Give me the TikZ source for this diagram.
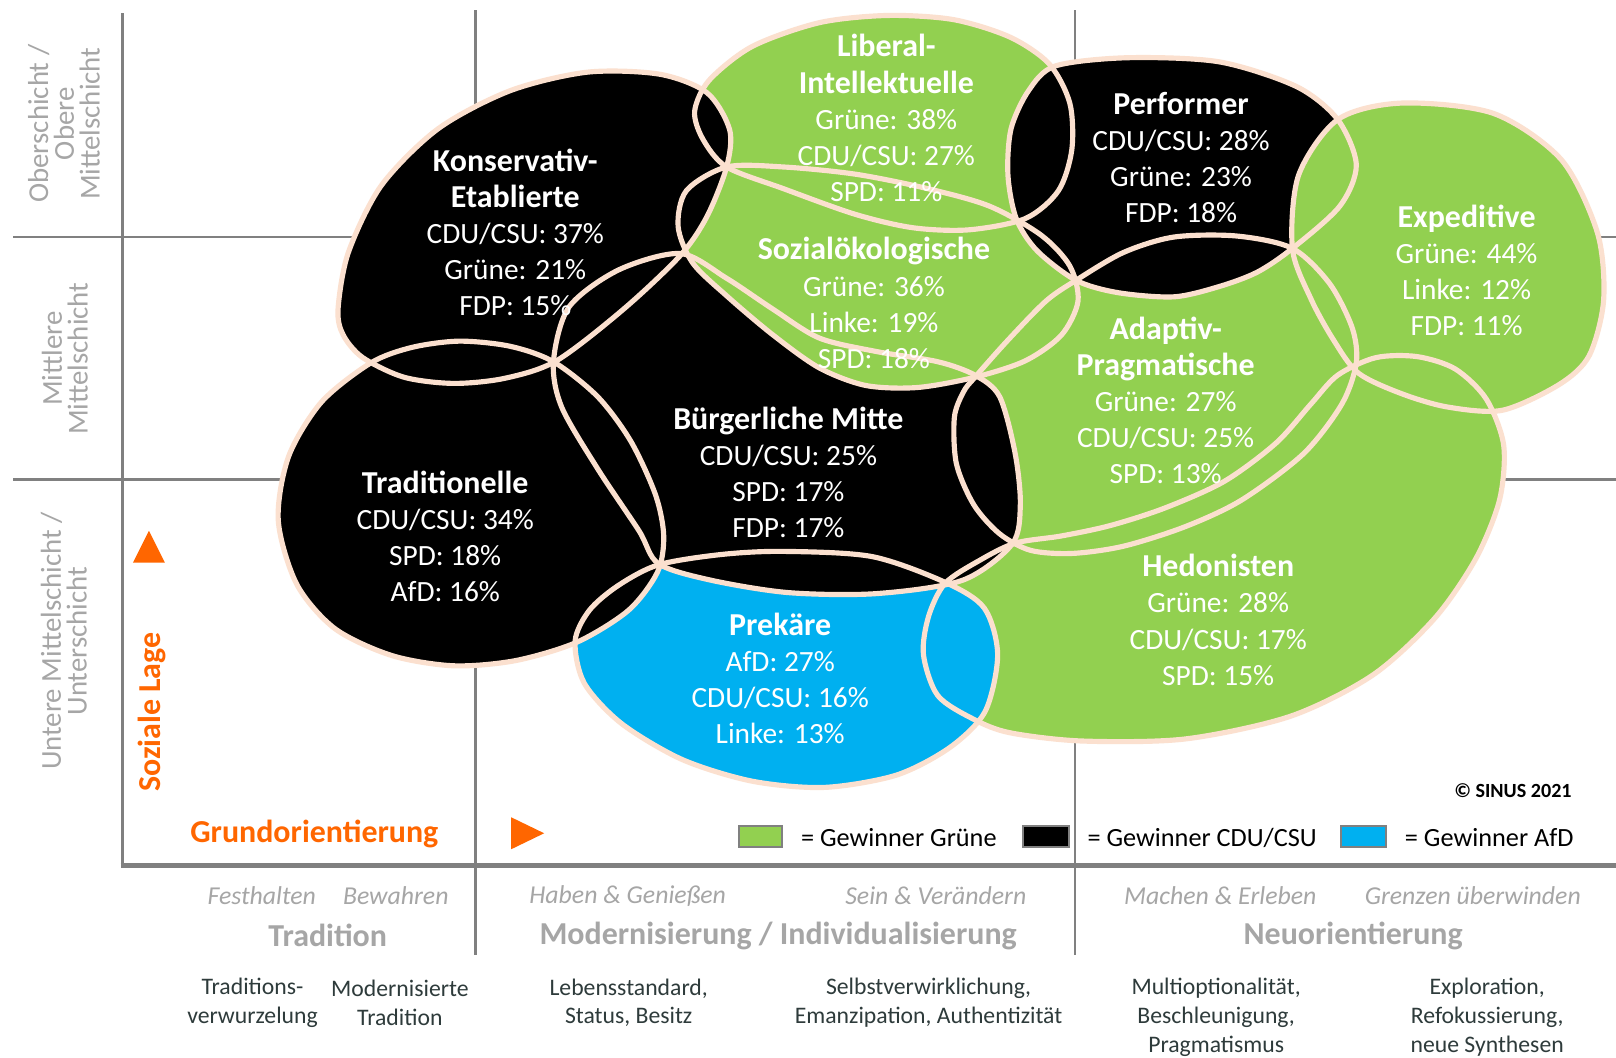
\documentclass[tikz,border=0pt]{standalone}
\usepackage{fontspec}
\setmainfont{Carlito}
\definecolor{peach}{HTML}{FBE0CF}
\definecolor{mgreen}{HTML}{92D050}
\definecolor{mblue}{HTML}{00B0F0}
\definecolor{morange}{HTML}{FF6600}
\definecolor{gridgray}{HTML}{808080}
\definecolor{sidegray}{HTML}{A6A6A6}
\definecolor{darktxt}{HTML}{2E3B3B}
\newcommand\mtitle[1]{{\fontsize{31}{35}\selectfont\bfseries #1}}
\begin{document}
\begin{tikzpicture}[x=1pt,y=-1pt,
  gridln/.style={draw=gridgray, line width=2.8pt},
  outline/.style={draw=peach, line width=5pt, line join=round},
  milieu/.style={text=white, align=center, inner sep=0pt, font=\fontsize{28.5}{35}\selectfont},
  sidelbl/.style={text=sidegray, align=center, rotate=90, inner sep=0pt, font=\fontsize{28}{25}\selectfont},
  orangelbl/.style={text=morange, inner sep=0pt, font=\fontsize{31}{35}\selectfont\bfseries},
  italbl/.style={text=sidegray, inner sep=0pt, font=\fontsize{25}{30}\selectfont\itshape},
  boldlbl/.style={text=sidegray, inner sep=0pt, font=\fontsize{31}{35}\selectfont\bfseries},
  desclbl/.style={text=darktxt, align=center, inner sep=0pt, font=\fontsize{23}{28}\selectfont},
  legbox/.style={draw=gridgray, line width=2pt, minimum width=42pt, minimum height=21pt, inner sep=0pt},
  legtxt/.style={anchor=west, inner sep=0pt, font=\fontsize{25.5}{30}\selectfont},
]
\useasboundingbox (0,0) rectangle (1568,1026);
\fill[white] (0,0) rectangle (1568,1026);

% grid
\draw[gridln] (13,230) -- (1568,230);
\draw[gridln] (13,465) -- (1568,465);
\draw[gridln] (461,10) -- (461,927);
\draw[gridln] (1043,10) -- (1043,927);
\draw[gridln] (119,13) -- (119,840);
\draw[gridln, line width=4.5pt] (117,840) -- (1568,840);

% blob paths
\def\pK{plot[smooth cycle] coordinates {(328,300) (338,245) (370,180) (425,125) (495,88) (570,70) (640,72) (686,90) (708,126) (705,162) (686,210) (660,248) (605,300) (540,350) (490,367) (440,372) (392,366) (352,347) (333,325)}}
\def\pL{plot[smooth cycle] coordinates {(705,162) (682,135) (674,108) (688,78) (730,45) (795,22) (861,15) (925,19) (980,36) (1018,62) (1038,100) (1040,145) (1027,185) (995,212) (940,223) (886,221) (830,208) (760,183)}}
\def\pS{plot[smooth cycle] coordinates {(705,162) (760,162) (830,169) (900,183) (960,200) (1010,228) (1038,258) (1046,292) (1030,325) (995,350) (946,366) (890,376) (840,374) (795,357) (750,325) (705,287) (672,255) (658,220) (666,185)}}
\def\pB{plot[smooth cycle] coordinates {(537,351) (552,298) (600,262) (660,246) (705,270) (750,300) (795,328) (850,341) (910,351) (946,364) (970,385) (985,440) (990,490) (982,528) (934,563) (850,576) (765,575) (690,563) (639,547) (620,515) (580,455) (545,395)}}
\def\pT{plot[smooth cycle] coordinates {(446,331) (495,336) (537,351) (580,385) (612,428) (636,480) (644,520) (638,555) (610,592) (560,623) (500,641) (440,646) (380,636) (325,610) (288,567) (270,505) (280,443) (312,390) (360,352) (400,337)}}
\def\pP{plot[smooth cycle] coordinates {(639,548) (700,538) (760,535) (846,540) (917,565) (955,590) (968,635) (956,690) (922,725) (870,752) (800,764) (730,758) (662,737) (603,702) (567,663) (558,622) (572,592) (600,568)}}
\def\pH{plot[smooth cycle] coordinates {(917,566) (950,544) (985,527) (1030,520) (1077,510) (1130,493) (1188,467) (1238,430) (1272,392) (1298,364) (1335,347) (1375,346) (1412,358) (1442,387) (1459,432) (1455,485) (1432,542) (1392,600) (1332,655) (1252,695) (1150,717) (1050,719) (980,711) (945,698) (910,675) (896,635) (901,598)}}
\def\pA{plot[smooth cycle] coordinates {(1044,272) (1090,245) (1139,230) (1200,229) (1254,241) (1290,275) (1312,318) (1316,352) (1302,392) (1265,440) (1205,485) (1150,511) (1090,530) (1040,537) (1000,534) (970,518) (945,490) (928,450) (926,405) (935,380) (946,366) (978,330) (1015,292)}}
\def\pE{plot[smooth cycle] coordinates {(1298,116) (1360,100) (1449,110) (1515,155) (1550,226) (1556,291) (1542,345) (1513,373) (1458,398) (1405,395) (1360,382) (1318,362) (1294,330) (1272,290) (1254,241) (1260,170)}}
\def\pF{plot[smooth cycle] coordinates {(1024,64) (1094,56) (1183,60) (1258,84) (1298,116) (1316,160) (1300,200) (1254,241) (1220,264) (1183,278) (1139,288) (1085,284) (1044,272) (1006,243) (986,212) (978,170) (981,125) (998,88)}}

% fills (layer order)
\fill[mgreen] \pL;
\fill[mgreen] \pA;
\fill[mgreen] \pH;
\fill[mblue] \pP;
\fill[black] \pB;
\fill[mgreen] \pS;
\fill[black] \pF;
\fill[mgreen] \pE;
\fill[black] \pT;
\fill[black] \pK;

% outlines
\draw[outline] \pL;
\draw[outline] \pA;
\draw[outline] \pH;
\draw[outline] \pP;
\draw[outline] \pB;
\draw[outline] \pS;
\draw[outline] \pF;
\draw[outline] \pE;
\draw[outline] \pT;
\draw[outline] \pK;

% milieu texts
\node[milieu] (tK) at (500,225.5) {\mtitle{Konservativ-}\\\mtitle{Etablierte}\\CDU/CSU: 37\%\\Grüne: 21\%\\FDP: 15\%};
\node[milieu] (tL) at (860,114.5) {\mtitle{Liberal-}\\\mtitle{Intellektuelle}\\Grüne: 38\%\\CDU/CSU: 27\%\\SPD: 11\%};
\node[milieu] (tF) at (1146,153) {\mtitle{Performer}\\CDU/CSU: 28\%\\Grüne: 23\%\\FDP: 18\%};
\node[milieu] (tS) at (848,294) {\mtitle{Sozialökologische}\\Grüne: 36\%\\Linke: 19\%\\SPD: 18\%};
\node[milieu] (tE) at (1423,262) {\mtitle{Expeditive}\\Grüne: 44\%\\Linke: 12\%\\FDP: 11\%};
\node[milieu] (tA) at (1131,388.5) {\mtitle{Adaptiv-}\\\mtitle{Pragmatische}\\Grüne: 27\%\\CDU/CSU: 25\%\\SPD: 13\%};
\node[milieu] (tB) at (765,458) {\mtitle{Bürgerliche Mitte}\\CDU/CSU: 25\%\\SPD: 17\%\\FDP: 17\%};
\node[milieu] (tT) at (432,520.5) {\mtitle{Traditionelle}\\CDU/CSU: 34\%\\SPD: 18\%\\AfD: 16\%};
\node[milieu] (tH) at (1182,601.5) {\mtitle{Hedonisten}\\Grüne: 28\%\\CDU/CSU: 17\%\\SPD: 15\%};
\node[milieu] (tP) at (757,658.5) {\mtitle{Prekäre}\\AfD: 27\%\\CDU/CSU: 16\%\\Linke: 13\%};

% side labels
\node[sidelbl] (s1) at (62,120) {Oberschicht /\\Obere\\Mittelschicht};
\node[sidelbl] (s2) at (63,348) {Mittlere\\Mittelschicht};
\node[sidelbl] (s3) at (62,622) {Untere Mittelschicht /\\Unterschicht};

% axis markers
\fill[morange] (129,546) -- (160,546) -- (144.5,515) -- cycle;
\node[orangelbl, rotate=90] (soz) at (147,691) {Soziale Lage};
\node[orangelbl] (grund) at (305,809) {Grundorientierung};
\fill[morange] (496,793) -- (496,824) -- (528,808.5) -- cycle;

% legend
\node[legbox, fill=mgreen] (lg1) at (738,811.5) {};
\node[legtxt] (lt1) at (777,813) {= Gewinner Grüne};
\node[legbox, fill=black, minimum width=44pt] (lg2) at (1015,811.5) {};
\node[legtxt] (lt2) at (1055,813) {= Gewinner CDU/CSU};
\node[legbox, fill=mblue, minimum width=44pt] (lg3) at (1323,811.5) {};
\node[legtxt] (lt3) at (1363,813) {= Gewinner AfD};
\node[inner sep=0pt, font=\fontsize{19.5}{24}\selectfont\bfseries] (copy) at (1468,767) {© SINUS 2021};

% bottom labels
\node[italbl] (i1) at (254,869) {Festhalten};
\node[italbl] (i2) at (384,869) {Bewahren};
\node[italbl] (i3) at (609,869) {Haben \& Genießen};
\node[italbl] (i4) at (908,869) {Sein \& Verändern};
\node[italbl] (i5) at (1184,869) {Machen \& Erleben};
\node[italbl] (i6) at (1429,869) {Grenzen überwinden};
\node[boldlbl] (b1) at (318,908) {Tradition};
\node[boldlbl] (b2) at (755,908) {Modernisierung / Individualisierung};
\node[boldlbl] (b3) at (1313,908) {Neuorientierung};
\node[desclbl] (d1) at (245,973) {Traditions-\\verwurzelung};
\node[desclbl] (d2) at (388,973) {Modernisierte\\Tradition};
\node[desclbl] (d3) at (610,973) {Lebensstandard,\\Status, Besitz};
\node[desclbl] (d4) at (901,973) {Selbstverwirklichung,\\Emanzipation, Authentizität};
\node[desclbl] (d5) at (1180,987) {Multioptionalität,\\Beschleunigung,\\Pragmatismus};
\node[desclbl] (d6) at (1443,987) {Exploration,\\Refokussierung,\\neue Synthesen};
\end{tikzpicture}
\end{document}
